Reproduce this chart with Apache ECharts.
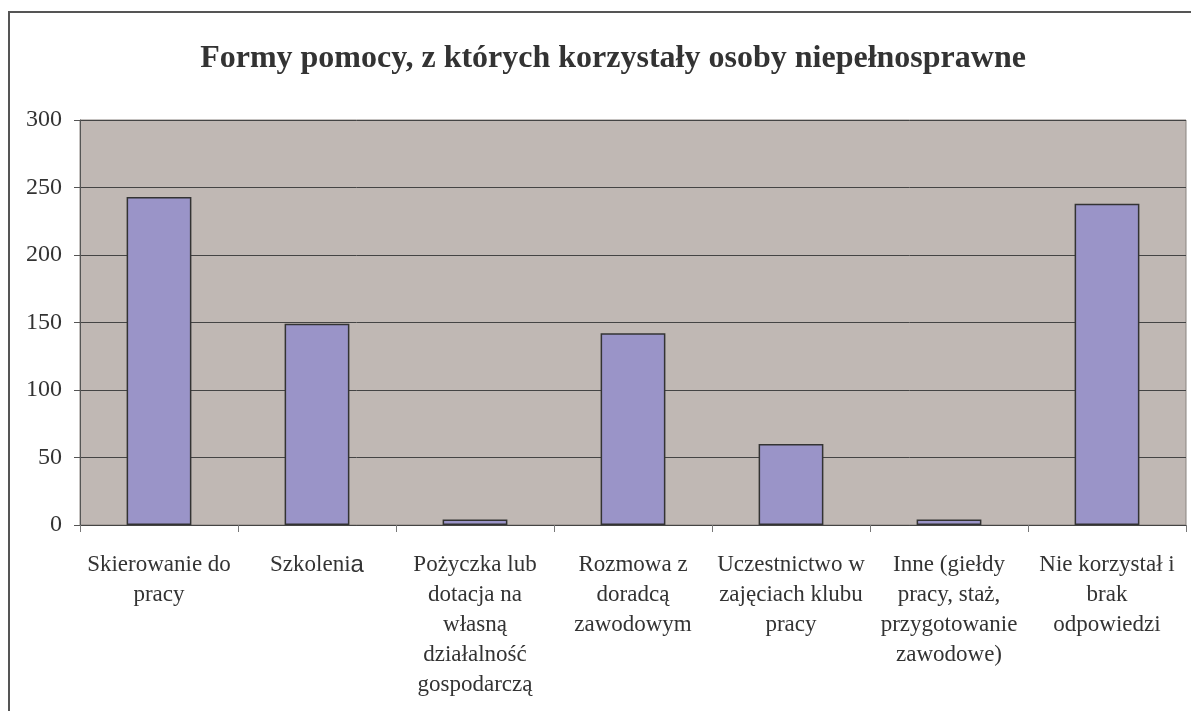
<!DOCTYPE html>
<html>
<head>
<meta charset="utf-8">
<script src="https://cdn.jsdelivr.net/npm/echarts@6/dist/echarts.min.js"></script>
<style>
  html, body { margin: 0; padding: 0; background: #fff; }
  #main { width: 1191px; height: 711px; }
</style>
</head>
<body>
<div id="main"></div>
<script>
// dane z wykresu
var categories = [
  'Skierowanie do\npracy',
  'Szkolenia',
  'Pożyczka lub\ndotacja na\nwłasną\ndziałalność\ngospodarczą',
  'Rozmowa z\ndoradcą\nzawodowym',
  'Uczestnictwo w\nzajęciach klubu\npracy',
  'Inne (giełdy\npracy, staż,\nprzygotowanie\nzawodowe)',
  'Nie korzystał i\nbrak\nodpowiedzi'
];
var values = [243, 149, 4, 142, 60, 4, 238];
var yTicks = [0, 50, 100, 150, 200, 250, 300];

var chart = echarts.init(document.getElementById('main'));
chart.setOption({
  backgroundColor: '#fff',
  animation: false,
  title: {
    text: 'Formy pomocy, z których korzystały osoby niepełnosprawne',
    left: 608,
    textAlign: 'center',
    top: 38,
    textStyle: { fontFamily: 'Liberation Serif', fontWeight: 'bold', fontSize: 32, color: '#333' }
  },
  graphic: [{
    type: 'rect',
    shape: { x: 9, y: 12, width: 1200, height: 720 },
    style: { fill: 'none', stroke: '#555', lineWidth: 2 },
    silent: true
  }],
  grid: {
    left: 80, right: 5, top: 120, bottom: 186,
    show: true, backgroundColor: '#c0b8b4', borderColor: '#8a8480', borderWidth: 1
  },
  xAxis: {
    type: 'category',
    data: categories,
    axisLine: { lineStyle: { color: '#444', width: 1 } },
    axisTick: { show: true, length: 7, lineStyle: { color: '#777' } },
    axisLabel: {
      interval: 0,
      margin: 25,
      fontFamily: 'Liberation Serif',
      fontSize: 23,
      lineHeight: 30,
      color: '#333',
      formatter: function (v) {
        return v === 'Szkolenia' ? 'Szkoleni{s|a}' : v;
      },
      rich: { s: { fontFamily: 'Liberation Sans', fontSize: 24, color: '#333' } }
    }
  },
  yAxis: {
    type: 'value',
    min: yTicks[0],
    max: yTicks[yTicks.length - 1],
    interval: 50,
    axisLine: { show: true, lineStyle: { color: '#555' } },
    axisTick: { show: true, length: 6, lineStyle: { color: '#555' } },
    axisLabel: { fontFamily: 'Liberation Serif', fontSize: 24, color: '#333', margin: 18, padding: [6, 0, 0, 0] },
    splitLine: { lineStyle: { color: '#444', width: 1 } }
  },
  series: [{
    type: 'bar',
    data: values,
    barWidth: '41%',
    itemStyle: { color: '#9a94c8', borderColor: '#333', borderWidth: 1.5 }
  }]
});
</script>
</body>
</html>
